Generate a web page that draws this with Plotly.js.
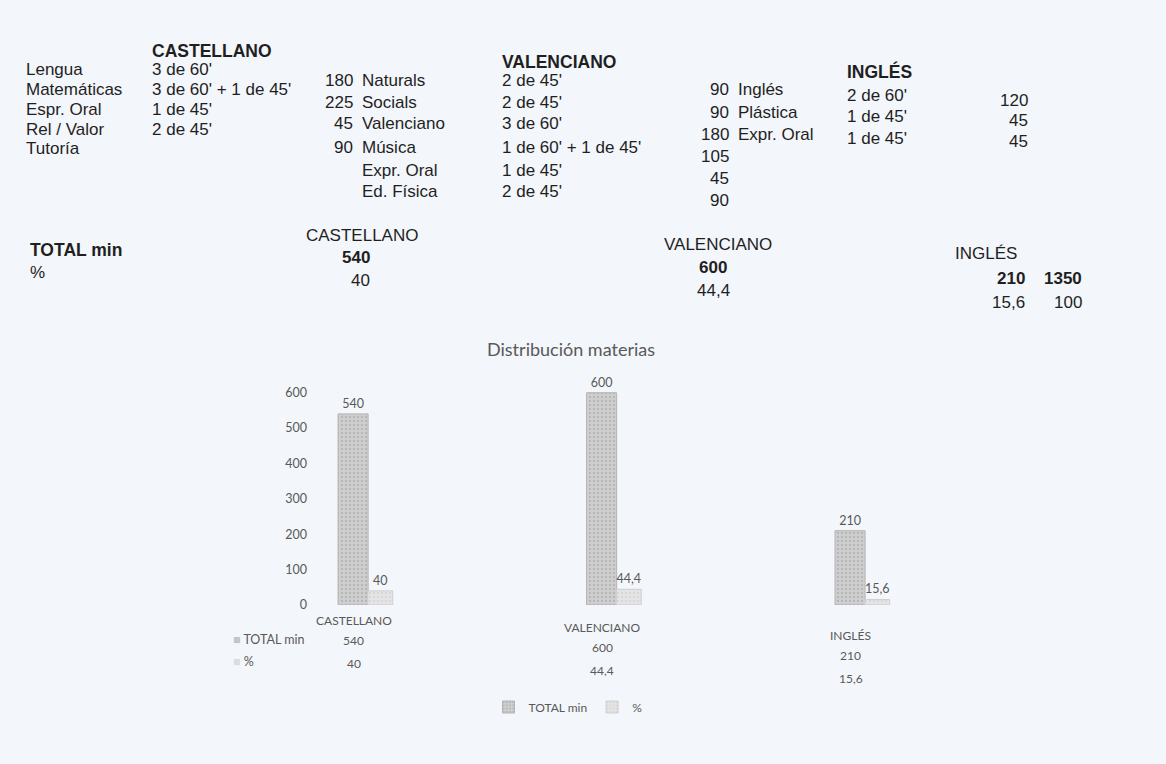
<!DOCTYPE html>
<html>
<head>
<meta charset="utf-8">
<script src="https://cdn.plot.ly/plotly-3.0.1.min.js"></script>
<style>
html,body{margin:0;padding:0;background:#f3f6fa;}
#chart{width:1166px;height:764px;}
</style>
</head>
<body>
<div id="chart"></div>
<script>
// ---- Data ----
const categories = ['CASTELLANO', 'VALENCIANO', 'INGLÉS'];
const totalMin = [540, 600, 210];
const percent = [40, 44.4, 15.6];
const grandTotal = 1350;
const grandPercent = 100;

const castellanoSubjects = ['Lengua', 'Matemáticas', 'Espr. Oral', 'Rel / Valor', 'Tutoría'];
const castellanoSessions = ["3 de 60'", "3 de 60' + 1 de 45'", "1 de 45'", "2 de 45'"];
const castellanoMinutes = [180, 225, 45, 90];

const valencianoSubjects = ['Naturals', 'Socials', 'Valenciano', 'Música', 'Expr. Oral', 'Ed. Física'];
const valencianoSessions = ["2 de 45'", "2 de 45'", "3 de 60'", "1 de 60' + 1 de 45'", "1 de 45'", "2 de 45'"];
const valencianoMinutes = [90, 90, 180, 105, 45, 90];

const inglesSubjects = ['Inglés', 'Plástica', 'Expr. Oral'];
const inglesSessions = ["2 de 60'", "1 de 45'", "1 de 45'"];
const inglesMinutes = [120, 45, 45];

// ---- Layout helpers ----
const L = 308, R = 960, T = 375, B = 605;
const PX = x => (x - L) / (R - L);
const PY = y => (B - y) / (B - T);
const fmt = v => String(v).replace('.', ',');

const docFont = 'Liberation Sans, Arial, sans-serif';
const chartFont = 'Lato, Open Sans, sans-serif';
const docColor = '#1f1f1f';
const chartColor = '#595959';
const FS = 17;

const ann = [];
function txt(text, x, y, anchor, size, bold, font, color) {
  ann.push({
    text: bold ? '<b>' + text + '</b>' : text,
    xref: 'paper', yref: 'paper', x: PX(x), y: PY(y),
    xanchor: anchor, yanchor: 'middle', showarrow: false,
    font: {family: font || docFont, size: size || FS, color: color || docColor}
  });
}

// Top table: CASTELLANO block
txt('CASTELLANO', 150, 51, 'left', 17.5, true);
const rowsA = [69, 89, 109, 129, 149];
castellanoSubjects.forEach((s, i) => txt(s, 24, rowsA[i], 'left'));
castellanoSessions.forEach((s, i) => txt(s, 150, rowsA[i], 'left'));

// VALENCIANO block
const rowsB = [80, 102, 124, 147, 170, 192];
castellanoMinutes.forEach((m, i) => txt(String(m), 355, rowsB[i], 'right'));
valencianoSubjects.forEach((s, i) => txt(s, 360, rowsB[i], 'left'));
txt('VALENCIANO', 500, 62, 'left', 17.5, true);
valencianoSessions.forEach((s, i) => txt(s, 500, rowsB[i], 'left'));

// INGLÉS block
const rowsC = [90, 112, 134, 156, 178, 200];
valencianoMinutes.forEach((m, i) => txt(String(m), 731, rowsC[i], 'right'));
inglesSubjects.forEach((s, i) => txt(s, 736, rowsC[i], 'left'));
txt('INGLÉS', 845, 71, 'left', 17.5, true);
const rowsD = [95, 117, 138];
inglesSessions.forEach((s, i) => txt(s, 845, rowsD[i], 'left'));
const rowsE = [100, 120, 141];
inglesMinutes.forEach((m, i) => txt(String(m), 1030, rowsE[i], 'right'));

// Totals row
txt('TOTAL min', 28, 250, 'left', 17.5, true);
txt('%', 28, 272, 'left', FS);
txt(categories[0], 362, 235, 'center', FS);
txt(String(totalMin[0]), 356, 257, 'center', FS, true);
txt(fmt(percent[0]), 360, 280, 'center', FS);
txt(categories[1], 718, 245, 'center', FS);
txt(String(totalMin[1]), 713, 267, 'center', FS, true);
txt(fmt(percent[1]), 713, 290, 'center', FS);
txt(categories[2], 953, 253, 'left', FS);
txt(String(totalMin[2]), 1027, 278, 'right', FS, true);
txt(fmt(percent[2]), 1027, 302, 'right', FS);
txt(String(grandTotal), 1084, 278, 'right', FS, true);
txt(String(grandPercent), 1084, 302, 'right', FS);

// Chart data table (under the bars), slanting like the 3D view
categories.forEach((c, i) => {
  const base = 620 + i * 7.5;
  const rows = [[c, base], [String(totalMin[i]), base + 20], [fmt(percent[i]), base + 43]];
  rows.forEach(r => ann.push({
    text: r[0], xref: 'x', yref: 'paper', x: c, y: PY(r[1]),
    xanchor: 'center', yanchor: 'middle', showarrow: false,
    font: {family: chartFont, size: 12, color: chartColor}
  }));
});
// table legend keys
ann.push({text: '<span style="color:#c4c4c4">■</span> TOTAL min', xref: 'paper', yref: 'paper',
  x: PX(231), y: PY(639), xanchor: 'left', yanchor: 'middle', showarrow: false,
  font: {family: chartFont, size: 12.5, color: chartColor}});
ann.push({text: '<span style="color:#dcdcdc">■</span> %', xref: 'paper', yref: 'paper',
  x: PX(231), y: PY(661), xanchor: 'left', yanchor: 'middle', showarrow: false,
  font: {family: chartFont, size: 12.5, color: chartColor}});

const traces = [
  {
    type: 'bar', name: 'TOTAL min', x: categories, y: totalMin,
    width: 0.121, offset: -0.064,
    marker: {color: '#cacaca', line: {color: '#b4b4b4', width: 1},
      pattern: {shape: '.', fgcolor: '#b5b5b5', bgcolor: '#cfcfcf', size: 4, solidity: 0.25}},
    text: totalMin.map(fmt), textposition: 'outside', cliponaxis: false,
    textfont: {family: chartFont, size: 12.5, color: chartColor}
  },
  {
    type: 'bar', name: '%', x: categories, y: percent,
    width: 0.1, offset: 0.056,
    marker: {color: '#e2e2e2', line: {color: '#cfcfcf', width: 1},
      pattern: {shape: '.', fgcolor: '#d2d2d2', bgcolor: '#e4e4e4', size: 4, solidity: 0.2}},
    text: percent.map(fmt), textposition: 'outside', cliponaxis: false,
    textfont: {family: chartFont, size: 12.5, color: chartColor}
  }
];

const layout = {
  width: 1166, height: 764,
  margin: {l: L, r: 1166 - R, t: T, b: 764 - B, pad: 0},
  paper_bgcolor: '#f3f6fa', plot_bgcolor: '#f3f6fa',
  barmode: 'overlay',
  showlegend: true,
  title: {text: 'Distribución materias', x: PX(571), xref: 'paper', xanchor: 'center',
    y: 1 - 350 / 764, yref: 'container', yanchor: 'middle',
    font: {family: chartFont, size: 18, color: chartColor}},
  xaxis: {type: 'category', range: [-0.185, 2.439], showticklabels: false,
    showgrid: false, zeroline: false, showline: false, ticks: ''},
  yaxis: {range: [0, 650], tickvals: [0, 100, 200, 300, 400, 500, 600],
    showgrid: false, zeroline: false, showline: false, ticks: '',
    tickfont: {family: chartFont, size: 12.5, color: chartColor}},
  legend: {orientation: 'h', x: PX(568), xanchor: 'center', y: PY(707), yanchor: 'middle',
    font: {family: chartFont, size: 12, color: chartColor}, bgcolor: 'rgba(0,0,0,0)',
    itemwidth: 30},
  annotations: ann,
  hovermode: false
};

Plotly.newPlot('chart', traces, layout, {displayModeBar: false, staticPlot: true});
</script>
</body>
</html>
